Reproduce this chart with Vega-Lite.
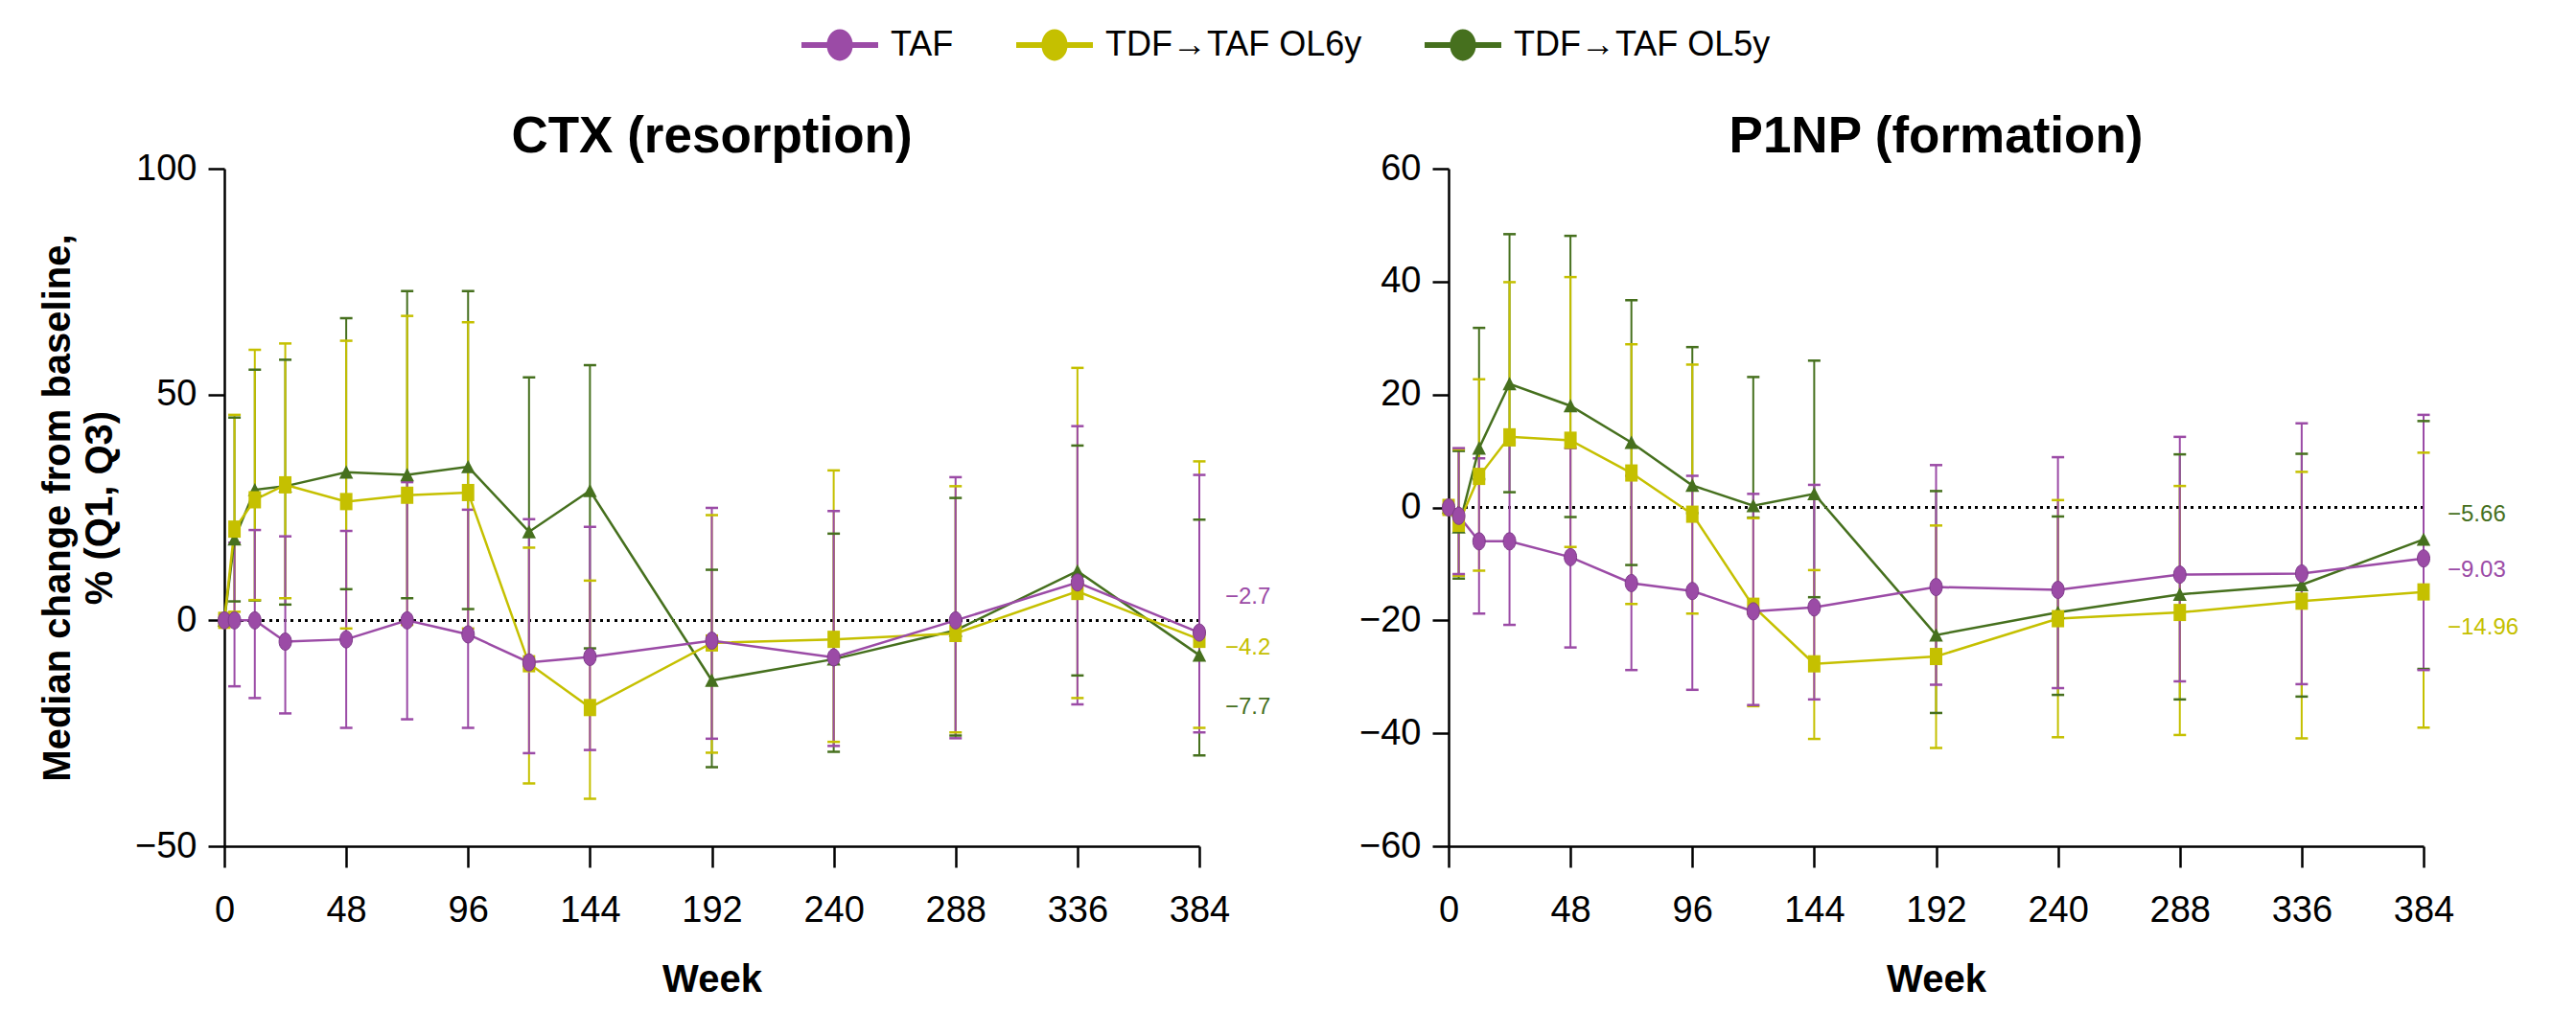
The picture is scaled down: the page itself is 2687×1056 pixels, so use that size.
{
  "$schema": "https://vega.github.io/schema/vega-lite/v6.json",
  "background": "white",
  "padding": {"left": 40, "top": 7, "right": 0, "bottom": 0},
  "bounds": "flush",
  "spacing": 260,
  "config": {
    "view": {"stroke": null},
    "font": "Liberation Sans",
    "axis": {"grid": false, "domainColor": "black", "domainWidth": 2.5, "tickColor": "black", "tickWidth": 2.5, "labelFont": "Liberation Sans", "labelFontSize": 38, "labelColor": "black", "titleFont": "Liberation Sans", "titleFontSize": 40, "titleFontWeight": "bold", "titleColor": "black", "labelFlush": false, "labelOverlap": false},
    "axisX": {"tickSize": 22, "labelPadding": 26, "titlePadding": 33},
    "axisY": {"tickSize": 17, "labelPadding": 12, "titlePadding": 16, "titleLineHeight": 44},
    "title": {"font": "Liberation Sans", "fontSize": 53, "fontWeight": "bold", "color": "black", "anchor": "middle", "baseline": "alphabetic", "offset": -13},
    "legend": {"orient": "none", "legendX": 602, "legendY": -169, "direction": "horizontal", "columns": 3, "symbolSize": 6400, "symbolStrokeWidth": 0, "labelFont": "Liberation Sans", "labelFontSize": 36, "labelColor": "black", "labelOffset": 13, "columnPadding": 65, "padding": 0, "labelLimit": 0}
  },
  "datasets": {
    "stats": [
      {"panel": "CTX", "group": "TDF→TAF OL5y", "week": 0, "median": 0, "q1": null, "q3": null},
      {"panel": "CTX", "group": "TDF→TAF OL5y", "week": 4, "median": 18.0, "q1": 4.2, "q3": 44.9},
      {"panel": "CTX", "group": "TDF→TAF OL5y", "week": 12, "median": 28.9, "q1": 4.4, "q3": 55.5},
      {"panel": "CTX", "group": "TDF→TAF OL5y", "week": 24, "median": 29.7, "q1": 3.5, "q3": 57.7},
      {"panel": "CTX", "group": "TDF→TAF OL5y", "week": 48, "median": 32.8, "q1": 6.9, "q3": 66.9},
      {"panel": "CTX", "group": "TDF→TAF OL5y", "week": 72, "median": 32.2, "q1": 4.9, "q3": 72.9},
      {"panel": "CTX", "group": "TDF→TAF OL5y", "week": 96, "median": 34.0, "q1": 2.5, "q3": 72.9},
      {"panel": "CTX", "group": "TDF→TAF OL5y", "week": 120, "median": 19.6, "q1": -10.0, "q3": 53.8},
      {"panel": "CTX", "group": "TDF→TAF OL5y", "week": 144, "median": 28.7, "q1": -6.2, "q3": 56.5},
      {"panel": "CTX", "group": "TDF→TAF OL5y", "week": 192, "median": -13.3, "q1": -32.5, "q3": 11.2},
      {"panel": "CTX", "group": "TDF→TAF OL5y", "week": 240, "median": -8.6, "q1": -29.1, "q3": 19.2},
      {"panel": "CTX", "group": "TDF→TAF OL5y", "week": 288, "median": -2.2, "q1": -25.5, "q3": 27.1},
      {"panel": "CTX", "group": "TDF→TAF OL5y", "week": 336, "median": 10.9, "q1": -12.2, "q3": 38.7},
      {"panel": "CTX", "group": "TDF→TAF OL5y", "week": 384, "median": -7.7, "q1": -29.9, "q3": 22.3},
      {"panel": "CTX", "group": "TDF→TAF OL6y", "week": 0, "median": 0, "q1": null, "q3": null},
      {"panel": "CTX", "group": "TDF→TAF OL6y", "week": 4, "median": 20.2, "q1": 1.9, "q3": 45.5},
      {"panel": "CTX", "group": "TDF→TAF OL6y", "week": 12, "median": 26.7, "q1": 4.5, "q3": 59.9},
      {"panel": "CTX", "group": "TDF→TAF OL6y", "week": 24, "median": 30.0, "q1": 4.9, "q3": 61.3},
      {"panel": "CTX", "group": "TDF→TAF OL6y", "week": 48, "median": 26.3, "q1": -1.8, "q3": 61.9},
      {"panel": "CTX", "group": "TDF→TAF OL6y", "week": 72, "median": 27.7, "q1": -1.0, "q3": 67.4},
      {"panel": "CTX", "group": "TDF→TAF OL6y", "week": 96, "median": 28.3, "q1": -1.8, "q3": 66.0},
      {"panel": "CTX", "group": "TDF→TAF OL6y", "week": 120, "median": -9.6, "q1": -36.1, "q3": 16.1},
      {"panel": "CTX", "group": "TDF→TAF OL6y", "week": 144, "median": -19.3, "q1": -39.5, "q3": 8.8},
      {"panel": "CTX", "group": "TDF→TAF OL6y", "week": 192, "median": -5.0, "q1": -29.3, "q3": 23.3},
      {"panel": "CTX", "group": "TDF→TAF OL6y", "week": 240, "median": -4.2, "q1": -26.9, "q3": 33.2},
      {"panel": "CTX", "group": "TDF→TAF OL6y", "week": 288, "median": -2.9, "q1": -24.8, "q3": 29.7},
      {"panel": "CTX", "group": "TDF→TAF OL6y", "week": 336, "median": 6.4, "q1": -17.2, "q3": 55.9},
      {"panel": "CTX", "group": "TDF→TAF OL6y", "week": 384, "median": -4.2, "q1": -23.8, "q3": 35.2},
      {"panel": "CTX", "group": "TAF", "week": 0, "median": 0, "q1": null, "q3": null},
      {"panel": "CTX", "group": "TAF", "week": 4, "median": 0, "q1": -14.6, "q3": 17.2},
      {"panel": "CTX", "group": "TAF", "week": 12, "median": 0, "q1": -17.2, "q3": 20.0},
      {"panel": "CTX", "group": "TAF", "week": 24, "median": -4.7, "q1": -20.6, "q3": 18.6},
      {"panel": "CTX", "group": "TAF", "week": 48, "median": -4.2, "q1": -23.8, "q3": 19.8},
      {"panel": "CTX", "group": "TAF", "week": 72, "median": 0, "q1": -21.9, "q3": 30.6},
      {"panel": "CTX", "group": "TAF", "week": 96, "median": -3.1, "q1": -23.8, "q3": 24.5},
      {"panel": "CTX", "group": "TAF", "week": 120, "median": -9.3, "q1": -29.4, "q3": 22.4},
      {"panel": "CTX", "group": "TAF", "week": 144, "median": -8.1, "q1": -28.7, "q3": 20.7},
      {"panel": "CTX", "group": "TAF", "week": 192, "median": -4.5, "q1": -26.2, "q3": 24.9},
      {"panel": "CTX", "group": "TAF", "week": 240, "median": -8.2, "q1": -27.8, "q3": 24.2},
      {"panel": "CTX", "group": "TAF", "week": 288, "median": 0, "q1": -26.1, "q3": 31.7},
      {"panel": "CTX", "group": "TAF", "week": 336, "median": 8.4, "q1": -18.6, "q3": 43.0},
      {"panel": "CTX", "group": "TAF", "week": 384, "median": -2.7, "q1": -24.8, "q3": 32.2},
      {"panel": "P1NP", "group": "TDF→TAF OL5y", "week": 0, "median": 0, "q1": null, "q3": null},
      {"panel": "P1NP", "group": "TDF→TAF OL5y", "week": 4, "median": -3.5, "q1": -12.6, "q3": 10.0},
      {"panel": "P1NP", "group": "TDF→TAF OL5y", "week": 12, "median": 10.5, "q1": 5.0, "q3": 31.8},
      {"panel": "P1NP", "group": "TDF→TAF OL5y", "week": 24, "median": 21.9, "q1": 2.7, "q3": 48.4},
      {"panel": "P1NP", "group": "TDF→TAF OL5y", "week": 48, "median": 18.0, "q1": -1.7, "q3": 48.1},
      {"panel": "P1NP", "group": "TDF→TAF OL5y", "week": 72, "median": 11.5, "q1": -10.2, "q3": 36.7},
      {"panel": "P1NP", "group": "TDF→TAF OL5y", "week": 96, "median": 3.9, "q1": -1.0, "q3": 28.4},
      {"panel": "P1NP", "group": "TDF→TAF OL5y", "week": 120, "median": 0.3, "q1": -1.8, "q3": 23.1},
      {"panel": "P1NP", "group": "TDF→TAF OL5y", "week": 144, "median": 2.4, "q1": -15.9, "q3": 26.0},
      {"panel": "P1NP", "group": "TDF→TAF OL5y", "week": 192, "median": -22.6, "q1": -36.4, "q3": 2.9},
      {"panel": "P1NP", "group": "TDF→TAF OL5y", "week": 240, "median": -18.6, "q1": -33.2, "q3": -1.6},
      {"panel": "P1NP", "group": "TDF→TAF OL5y", "week": 288, "median": -15.4, "q1": -34.0, "q3": 9.4},
      {"panel": "P1NP", "group": "TDF→TAF OL5y", "week": 336, "median": -13.7, "q1": -33.5, "q3": 9.5},
      {"panel": "P1NP", "group": "TDF→TAF OL5y", "week": 384, "median": -5.66, "q1": -28.6, "q3": 15.3},
      {"panel": "P1NP", "group": "TDF→TAF OL6y", "week": 0, "median": 0, "q1": null, "q3": null},
      {"panel": "P1NP", "group": "TDF→TAF OL6y", "week": 4, "median": -2.8, "q1": -12.1, "q3": 10.3},
      {"panel": "P1NP", "group": "TDF→TAF OL6y", "week": 12, "median": 5.5, "q1": -11.2, "q3": 22.7},
      {"panel": "P1NP", "group": "TDF→TAF OL6y", "week": 24, "median": 12.5, "q1": 11.0, "q3": 39.9},
      {"panel": "P1NP", "group": "TDF→TAF OL6y", "week": 48, "median": 11.9, "q1": -7.0, "q3": 40.8},
      {"panel": "P1NP", "group": "TDF→TAF OL6y", "week": 72, "median": 6.1, "q1": -17.1, "q3": 28.9},
      {"panel": "P1NP", "group": "TDF→TAF OL6y", "week": 96, "median": -1.2, "q1": -18.8, "q3": 25.3},
      {"panel": "P1NP", "group": "TDF→TAF OL6y", "week": 120, "median": -17.5, "q1": -35.2, "q3": -1.9},
      {"panel": "P1NP", "group": "TDF→TAF OL6y", "week": 144, "median": -27.7, "q1": -41.0, "q3": -11.1},
      {"panel": "P1NP", "group": "TDF→TAF OL6y", "week": 192, "median": -26.4, "q1": -42.6, "q3": -3.2},
      {"panel": "P1NP", "group": "TDF→TAF OL6y", "week": 240, "median": -19.7, "q1": -40.7, "q3": 1.3},
      {"panel": "P1NP", "group": "TDF→TAF OL6y", "week": 288, "median": -18.6, "q1": -40.3, "q3": 3.8},
      {"panel": "P1NP", "group": "TDF→TAF OL6y", "week": 336, "median": -16.6, "q1": -40.9, "q3": 6.3},
      {"panel": "P1NP", "group": "TDF→TAF OL6y", "week": 384, "median": -14.96, "q1": -39.0, "q3": 9.7},
      {"panel": "P1NP", "group": "TAF", "week": 0, "median": 0, "q1": null, "q3": null},
      {"panel": "P1NP", "group": "TAF", "week": 4, "median": -1.5, "q1": -11.8, "q3": 10.5},
      {"panel": "P1NP", "group": "TAF", "week": 12, "median": -6.0, "q1": -18.8, "q3": 8.7},
      {"panel": "P1NP", "group": "TAF", "week": 24, "median": -6.0, "q1": -20.8, "q3": 11.5},
      {"panel": "P1NP", "group": "TAF", "week": 48, "median": -8.8, "q1": -24.8, "q3": 10.5},
      {"panel": "P1NP", "group": "TAF", "week": 72, "median": -13.4, "q1": -28.8, "q3": 5.6},
      {"panel": "P1NP", "group": "TAF", "week": 96, "median": -14.8, "q1": -32.3, "q3": 5.6},
      {"panel": "P1NP", "group": "TAF", "week": 120, "median": -18.4, "q1": -35.0, "q3": 2.4},
      {"panel": "P1NP", "group": "TAF", "week": 144, "median": -17.7, "q1": -34.0, "q3": 4.0},
      {"panel": "P1NP", "group": "TAF", "week": 192, "median": -14.1, "q1": -31.4, "q3": 7.5},
      {"panel": "P1NP", "group": "TAF", "week": 240, "median": -14.6, "q1": -32.0, "q3": 8.9},
      {"panel": "P1NP", "group": "TAF", "week": 288, "median": -11.9, "q1": -30.8, "q3": 12.5},
      {"panel": "P1NP", "group": "TAF", "week": 336, "median": -11.7, "q1": -31.3, "q3": 14.9},
      {"panel": "P1NP", "group": "TAF", "week": 384, "median": -9.03, "q1": -28.8, "q3": 16.4}
    ],
    "labels": [
      {"panel": "CTX", "group": "TAF", "week": 384, "labelY": 5.2, "label": "−2.7"},
      {"panel": "CTX", "group": "TDF→TAF OL6y", "week": 384, "labelY": -6.1, "label": "−4.2"},
      {"panel": "CTX", "group": "TDF→TAF OL5y", "week": 384, "labelY": -19.2, "label": "−7.7"},
      {"panel": "P1NP", "group": "TDF→TAF OL5y", "week": 384, "labelY": -1.2, "label": "−5.66"},
      {"panel": "P1NP", "group": "TAF", "week": 384, "labelY": -11.1, "label": "−9.03"},
      {"panel": "P1NP", "group": "TDF→TAF OL6y", "week": 384, "labelY": -21.3, "label": "−14.96"}
    ]
  },
  "hconcat": [
    {
      "width": 1017,
      "height": 707,
      "title": {"text": "CTX (resorption)"},
      "data": {"name": "stats"},
      "transform": [{"filter": "datum.panel === 'CTX'"}],
      "layer": [
        {
          "mark": {"type": "rule", "color": "black", "strokeWidth": 2.8, "strokeDash": [2.5, 5]},
          "encoding": {"y": {"datum": 0, "type": "quantitative", "scale": {"domain": [-50, 100], "nice": false}, "axis": {"values": [-50, 0, 50, 100], "title": ["Median change from baseline,", "% (Q1, Q3)"]}}}
        },
        {
          "mark": {"type": "rule", "strokeWidth": 2},
          "encoding": {
            "x": {"field": "week", "type": "quantitative", "scale": {"domain": [0, 384], "nice": false, "zero": false}, "axis": {"values": [0, 48, 96, 144, 192, 240, 288, 336, 384], "title": "Week"}},
            "y": {"field": "q1", "type": "quantitative", "scale": {"domain": [-50, 100], "nice": false}, "axis": {"values": [-50, 0, 50, 100], "title": ["Median change from baseline,", "% (Q1, Q3)"]}},
            "y2": {"field": "q3"},
            "color": {"field": "group", "type": "nominal", "scale": {"domain": ["TAF", "TDF→TAF OL6y", "TDF→TAF OL5y"], "range": ["#9B4BA6", "#C5C000", "#46701E"]}, "legend": {"title": null, "symbolType": "M-1,-0.075H1V0.075H-1Z M-0.34,0A0.34,0.41 0 1,1 0.34,0A0.34,0.41 0 1,1 -0.34,0Z", "encode": {"symbols": {"update": {"fill": {"scale": "color", "field": "value"}, "opacity": {"value": 1}}}}}}
          }
        },
        {
          "mark": {"type": "tick", "orient": "horizontal", "size": 13, "thickness": 2.5, "opacity": 1},
          "encoding": {
            "x": {"field": "week", "type": "quantitative", "scale": {"domain": [0, 384], "nice": false, "zero": false}, "axis": {"values": [0, 48, 96, 144, 192, 240, 288, 336, 384], "title": "Week"}},
            "y": {"field": "q1", "type": "quantitative", "scale": {"domain": [-50, 100], "nice": false}, "axis": {"values": [-50, 0, 50, 100], "title": ["Median change from baseline,", "% (Q1, Q3)"]}},
            "color": {"field": "group", "type": "nominal", "scale": {"domain": ["TAF", "TDF→TAF OL6y", "TDF→TAF OL5y"], "range": ["#9B4BA6", "#C5C000", "#46701E"]}, "legend": {"title": null, "symbolType": "M-1,-0.075H1V0.075H-1Z M-0.34,0A0.34,0.41 0 1,1 0.34,0A0.34,0.41 0 1,1 -0.34,0Z", "encode": {"symbols": {"update": {"fill": {"scale": "color", "field": "value"}, "opacity": {"value": 1}}}}}}
          }
        },
        {
          "mark": {"type": "tick", "orient": "horizontal", "size": 13, "thickness": 2.5, "opacity": 1},
          "encoding": {
            "x": {"field": "week", "type": "quantitative", "scale": {"domain": [0, 384], "nice": false, "zero": false}, "axis": {"values": [0, 48, 96, 144, 192, 240, 288, 336, 384], "title": "Week"}},
            "y": {"field": "q3", "type": "quantitative", "scale": {"domain": [-50, 100], "nice": false}, "axis": {"values": [-50, 0, 50, 100], "title": ["Median change from baseline,", "% (Q1, Q3)"]}},
            "color": {"field": "group", "type": "nominal", "scale": {"domain": ["TAF", "TDF→TAF OL6y", "TDF→TAF OL5y"], "range": ["#9B4BA6", "#C5C000", "#46701E"]}, "legend": {"title": null, "symbolType": "M-1,-0.075H1V0.075H-1Z M-0.34,0A0.34,0.41 0 1,1 0.34,0A0.34,0.41 0 1,1 -0.34,0Z", "encode": {"symbols": {"update": {"fill": {"scale": "color", "field": "value"}, "opacity": {"value": 1}}}}}}
          }
        },
        {
          "mark": {"type": "line", "strokeWidth": 2.5},
          "encoding": {
            "x": {"field": "week", "type": "quantitative", "scale": {"domain": [0, 384], "nice": false, "zero": false}, "axis": {"values": [0, 48, 96, 144, 192, 240, 288, 336, 384], "title": "Week"}},
            "y": {"field": "median", "type": "quantitative", "scale": {"domain": [-50, 100], "nice": false}, "axis": {"values": [-50, 0, 50, 100], "title": ["Median change from baseline,", "% (Q1, Q3)"]}},
            "color": {"field": "group", "type": "nominal", "scale": {"domain": ["TAF", "TDF→TAF OL6y", "TDF→TAF OL5y"], "range": ["#9B4BA6", "#C5C000", "#46701E"]}, "legend": {"title": null, "symbolType": "M-1,-0.075H1V0.075H-1Z M-0.34,0A0.34,0.41 0 1,1 0.34,0A0.34,0.41 0 1,1 -0.34,0Z", "encode": {"symbols": {"update": {"fill": {"scale": "color", "field": "value"}, "opacity": {"value": 1}}}}}}
          }
        },
        {
          "transform": [{"filter": "datum.group === 'TDF→TAF OL5y'"}],
          "mark": {"type": "point", "filled": true, "opacity": 1, "size": 324, "shape": "M0,-0.8L0.8,0.75L-0.8,0.75Z", "color": "#46701E"},
          "encoding": {
            "x": {"field": "week", "type": "quantitative", "scale": {"domain": [0, 384], "nice": false, "zero": false}, "axis": {"values": [0, 48, 96, 144, 192, 240, 288, 336, 384], "title": "Week"}},
            "y": {"field": "median", "type": "quantitative", "scale": {"domain": [-50, 100], "nice": false}, "axis": {"values": [-50, 0, 50, 100], "title": ["Median change from baseline,", "% (Q1, Q3)"]}}
          }
        },
        {
          "transform": [{"filter": "datum.group === 'TDF→TAF OL6y'"}],
          "mark": {"type": "point", "filled": true, "opacity": 1, "size": 324, "shape": "M-0.72,-1H0.72V1H-0.72Z", "color": "#C5C000"},
          "encoding": {
            "x": {"field": "week", "type": "quantitative", "scale": {"domain": [0, 384], "nice": false, "zero": false}, "axis": {"values": [0, 48, 96, 144, 192, 240, 288, 336, 384], "title": "Week"}},
            "y": {"field": "median", "type": "quantitative", "scale": {"domain": [-50, 100], "nice": false}, "axis": {"values": [-50, 0, 50, 100], "title": ["Median change from baseline,", "% (Q1, Q3)"]}}
          }
        },
        {
          "transform": [{"filter": "datum.group === 'TAF'"}],
          "mark": {"type": "point", "filled": true, "opacity": 1, "size": 324, "shape": "M-0.72,0A0.72,1 0 1,0 0.72,0A0.72,1 0 1,0 -0.72,0Z", "color": "#9B4BA6", "stroke": "#7E3A8A", "strokeWidth": 1},
          "encoding": {
            "x": {"field": "week", "type": "quantitative", "scale": {"domain": [0, 384], "nice": false, "zero": false}, "axis": {"values": [0, 48, 96, 144, 192, 240, 288, 336, 384], "title": "Week"}},
            "y": {"field": "median", "type": "quantitative", "scale": {"domain": [-50, 100], "nice": false}, "axis": {"values": [-50, 0, 50, 100], "title": ["Median change from baseline,", "% (Q1, Q3)"]}}
          }
        },
        {
          "data": {"name": "labels"},
          "transform": [{"filter": "datum.panel === 'CTX'"}],
          "mark": {"type": "text", "align": "left", "baseline": "middle", "dx": 27, "fontSize": 24, "font": "Liberation Sans"},
          "encoding": {
            "x": {"field": "week", "type": "quantitative", "scale": {"domain": [0, 384], "nice": false, "zero": false}, "axis": {"values": [0, 48, 96, 144, 192, 240, 288, 336, 384], "title": "Week"}},
            "y": {"field": "labelY", "type": "quantitative", "scale": {"domain": [-50, 100], "nice": false}, "axis": {"values": [-50, 0, 50, 100], "title": ["Median change from baseline,", "% (Q1, Q3)"]}},
            "text": {"field": "label"},
            "color": {"field": "group", "type": "nominal", "scale": {"domain": ["TAF", "TDF→TAF OL6y", "TDF→TAF OL5y"], "range": ["#9B4BA6", "#C5C000", "#46701E"]}, "legend": {"title": null, "symbolType": "M-1,-0.075H1V0.075H-1Z M-0.34,0A0.34,0.41 0 1,1 0.34,0A0.34,0.41 0 1,1 -0.34,0Z", "encode": {"symbols": {"update": {"fill": {"scale": "color", "field": "value"}, "opacity": {"value": 1}}}}}}
          }
        }
      ]
    },
    {
      "width": 1017,
      "height": 707,
      "title": {"text": "P1NP (formation)"},
      "data": {"name": "stats"},
      "transform": [{"filter": "datum.panel === 'P1NP'"}],
      "layer": [
        {
          "mark": {"type": "rule", "color": "black", "strokeWidth": 2.8, "strokeDash": [2.5, 5]},
          "encoding": {"y": {"datum": 0, "type": "quantitative", "scale": {"domain": [-60, 60], "nice": false}, "axis": {"values": [-60, -40, -20, 0, 20, 40, 60], "title": null}}}
        },
        {
          "mark": {"type": "rule", "strokeWidth": 2},
          "encoding": {
            "x": {"field": "week", "type": "quantitative", "scale": {"domain": [0, 384], "nice": false, "zero": false}, "axis": {"values": [0, 48, 96, 144, 192, 240, 288, 336, 384], "title": "Week"}},
            "y": {"field": "q1", "type": "quantitative", "scale": {"domain": [-60, 60], "nice": false}, "axis": {"values": [-60, -40, -20, 0, 20, 40, 60], "title": null}},
            "y2": {"field": "q3"},
            "color": {"field": "group", "type": "nominal", "scale": {"domain": ["TAF", "TDF→TAF OL6y", "TDF→TAF OL5y"], "range": ["#9B4BA6", "#C5C000", "#46701E"]}, "legend": {"title": null, "symbolType": "M-1,-0.075H1V0.075H-1Z M-0.34,0A0.34,0.41 0 1,1 0.34,0A0.34,0.41 0 1,1 -0.34,0Z", "encode": {"symbols": {"update": {"fill": {"scale": "color", "field": "value"}, "opacity": {"value": 1}}}}}}
          }
        },
        {
          "mark": {"type": "tick", "orient": "horizontal", "size": 13, "thickness": 2.5, "opacity": 1},
          "encoding": {
            "x": {"field": "week", "type": "quantitative", "scale": {"domain": [0, 384], "nice": false, "zero": false}, "axis": {"values": [0, 48, 96, 144, 192, 240, 288, 336, 384], "title": "Week"}},
            "y": {"field": "q1", "type": "quantitative", "scale": {"domain": [-60, 60], "nice": false}, "axis": {"values": [-60, -40, -20, 0, 20, 40, 60], "title": null}},
            "color": {"field": "group", "type": "nominal", "scale": {"domain": ["TAF", "TDF→TAF OL6y", "TDF→TAF OL5y"], "range": ["#9B4BA6", "#C5C000", "#46701E"]}, "legend": {"title": null, "symbolType": "M-1,-0.075H1V0.075H-1Z M-0.34,0A0.34,0.41 0 1,1 0.34,0A0.34,0.41 0 1,1 -0.34,0Z", "encode": {"symbols": {"update": {"fill": {"scale": "color", "field": "value"}, "opacity": {"value": 1}}}}}}
          }
        },
        {
          "mark": {"type": "tick", "orient": "horizontal", "size": 13, "thickness": 2.5, "opacity": 1},
          "encoding": {
            "x": {"field": "week", "type": "quantitative", "scale": {"domain": [0, 384], "nice": false, "zero": false}, "axis": {"values": [0, 48, 96, 144, 192, 240, 288, 336, 384], "title": "Week"}},
            "y": {"field": "q3", "type": "quantitative", "scale": {"domain": [-60, 60], "nice": false}, "axis": {"values": [-60, -40, -20, 0, 20, 40, 60], "title": null}},
            "color": {"field": "group", "type": "nominal", "scale": {"domain": ["TAF", "TDF→TAF OL6y", "TDF→TAF OL5y"], "range": ["#9B4BA6", "#C5C000", "#46701E"]}, "legend": {"title": null, "symbolType": "M-1,-0.075H1V0.075H-1Z M-0.34,0A0.34,0.41 0 1,1 0.34,0A0.34,0.41 0 1,1 -0.34,0Z", "encode": {"symbols": {"update": {"fill": {"scale": "color", "field": "value"}, "opacity": {"value": 1}}}}}}
          }
        },
        {
          "mark": {"type": "line", "strokeWidth": 2.5},
          "encoding": {
            "x": {"field": "week", "type": "quantitative", "scale": {"domain": [0, 384], "nice": false, "zero": false}, "axis": {"values": [0, 48, 96, 144, 192, 240, 288, 336, 384], "title": "Week"}},
            "y": {"field": "median", "type": "quantitative", "scale": {"domain": [-60, 60], "nice": false}, "axis": {"values": [-60, -40, -20, 0, 20, 40, 60], "title": null}},
            "color": {"field": "group", "type": "nominal", "scale": {"domain": ["TAF", "TDF→TAF OL6y", "TDF→TAF OL5y"], "range": ["#9B4BA6", "#C5C000", "#46701E"]}, "legend": {"title": null, "symbolType": "M-1,-0.075H1V0.075H-1Z M-0.34,0A0.34,0.41 0 1,1 0.34,0A0.34,0.41 0 1,1 -0.34,0Z", "encode": {"symbols": {"update": {"fill": {"scale": "color", "field": "value"}, "opacity": {"value": 1}}}}}}
          }
        },
        {
          "transform": [{"filter": "datum.group === 'TDF→TAF OL5y'"}],
          "mark": {"type": "point", "filled": true, "opacity": 1, "size": 324, "shape": "M0,-0.8L0.8,0.75L-0.8,0.75Z", "color": "#46701E"},
          "encoding": {
            "x": {"field": "week", "type": "quantitative", "scale": {"domain": [0, 384], "nice": false, "zero": false}, "axis": {"values": [0, 48, 96, 144, 192, 240, 288, 336, 384], "title": "Week"}},
            "y": {"field": "median", "type": "quantitative", "scale": {"domain": [-60, 60], "nice": false}, "axis": {"values": [-60, -40, -20, 0, 20, 40, 60], "title": null}}
          }
        },
        {
          "transform": [{"filter": "datum.group === 'TDF→TAF OL6y'"}],
          "mark": {"type": "point", "filled": true, "opacity": 1, "size": 324, "shape": "M-0.72,-1H0.72V1H-0.72Z", "color": "#C5C000"},
          "encoding": {
            "x": {"field": "week", "type": "quantitative", "scale": {"domain": [0, 384], "nice": false, "zero": false}, "axis": {"values": [0, 48, 96, 144, 192, 240, 288, 336, 384], "title": "Week"}},
            "y": {"field": "median", "type": "quantitative", "scale": {"domain": [-60, 60], "nice": false}, "axis": {"values": [-60, -40, -20, 0, 20, 40, 60], "title": null}}
          }
        },
        {
          "transform": [{"filter": "datum.group === 'TAF'"}],
          "mark": {"type": "point", "filled": true, "opacity": 1, "size": 324, "shape": "M-0.72,0A0.72,1 0 1,0 0.72,0A0.72,1 0 1,0 -0.72,0Z", "color": "#9B4BA6", "stroke": "#7E3A8A", "strokeWidth": 1},
          "encoding": {
            "x": {"field": "week", "type": "quantitative", "scale": {"domain": [0, 384], "nice": false, "zero": false}, "axis": {"values": [0, 48, 96, 144, 192, 240, 288, 336, 384], "title": "Week"}},
            "y": {"field": "median", "type": "quantitative", "scale": {"domain": [-60, 60], "nice": false}, "axis": {"values": [-60, -40, -20, 0, 20, 40, 60], "title": null}}
          }
        },
        {
          "data": {"name": "labels"},
          "transform": [{"filter": "datum.panel === 'P1NP'"}],
          "mark": {"type": "text", "align": "left", "baseline": "middle", "dx": 25, "fontSize": 24, "font": "Liberation Sans"},
          "encoding": {
            "x": {"field": "week", "type": "quantitative", "scale": {"domain": [0, 384], "nice": false, "zero": false}, "axis": {"values": [0, 48, 96, 144, 192, 240, 288, 336, 384], "title": "Week"}},
            "y": {"field": "labelY", "type": "quantitative", "scale": {"domain": [-60, 60], "nice": false}, "axis": {"values": [-60, -40, -20, 0, 20, 40, 60], "title": null}},
            "text": {"field": "label"},
            "color": {"field": "group", "type": "nominal", "scale": {"domain": ["TAF", "TDF→TAF OL6y", "TDF→TAF OL5y"], "range": ["#9B4BA6", "#C5C000", "#46701E"]}, "legend": {"title": null, "symbolType": "M-1,-0.075H1V0.075H-1Z M-0.34,0A0.34,0.41 0 1,1 0.34,0A0.34,0.41 0 1,1 -0.34,0Z", "encode": {"symbols": {"update": {"fill": {"scale": "color", "field": "value"}, "opacity": {"value": 1}}}}}}
          }
        }
      ]
    }
  ]
}
